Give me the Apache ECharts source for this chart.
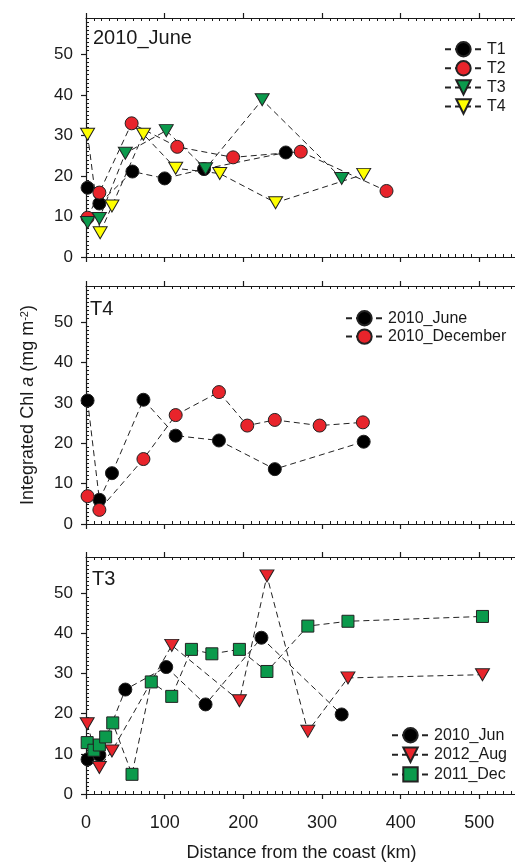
<!DOCTYPE html>
<html>
<head>
<meta charset="utf-8">
<script src="https://cdn.jsdelivr.net/npm/echarts@6/dist/echarts.min.js"></script>
<style>
  html, body { margin: 0; padding: 0; background: #ffffff; }
  #chart { width: 515px; height: 862px; }
</style>
</head>
<body>
<div id="chart"></div>
<script>
// Panel 1 — 2010_June, four transects (distance km, integrated Chl a mg m-2)
const t1Dist = [2, 17, 59, 100, 150, 254];
const t1Chl  = [17.1, 13.2, 21.1, 19.4, 21.7, 25.8];
const t2Dist = [2, 17, 58, 116, 187, 273, 382];
const t2Chl  = [9.7, 15.9, 33.0, 27.2, 24.6, 26.0, 16.3];
const t3Dist = [2, 17, 50, 102, 152, 224, 325];
const t3Chl  = [8.5, 9.5, 25.6, 31.2, 21.8, 38.8, 19.4];
const t4Dist = [2, 18, 33, 73, 114, 170, 241, 353];
const t4Chl  = [30.3, 6.0, 12.6, 30.3, 21.9, 20.6, 13.4, 20.4];

// Panel 2 — transect T4 in two seasons
const t4JunDist = [2, 17, 33, 73, 114, 169, 240, 353];
const t4JunChl  = [30.6, 6.0, 12.6, 30.8, 21.9, 20.7, 13.6, 20.4];
const t4DecDist = [2, 17, 73, 114, 169, 205, 240, 297, 352];
const t4DecChl  = [6.9, 3.5, 16.1, 27.0, 32.7, 24.4, 25.8, 24.4, 25.2];

// Panel 3 — transect T3 in three cruises
const t3JunDist = [2, 17, 50, 102, 152, 223, 325];
const t3JunChl  = [8.6, 9.7, 26.0, 31.6, 22.3, 38.9, 19.8];
const t3AugDist = [1.5, 17, 33, 109, 195, 230, 282, 333, 504];
const t3AugChl  = [17.5, 6.6, 10.7, 37.0, 23.2, 54.3, 15.6, 28.9, 29.7];
const t3DecDist = [1.5, 10, 17, 25, 34, 58.5, 83, 109, 134, 160, 195, 230, 282, 333, 504];
const t3DecChl  = [12.8, 10.9, 12.2, 14.2, 17.7, 4.9, 27.9, 24.3, 36.0, 34.9, 36.0, 30.5, 41.8, 43.0, 44.2];

// Tick values
const yTickValues = [0, 10, 20, 30, 40, 50];
const xTickValues = [0, 100, 200, 300, 400, 500];

// Panel and legend labels
const panelTitles = ['2010_June', 'T4', 'T3'];
const legend1 = ['T1', 'T2', 'T3', 'T4'];
const legend2 = ['2010_June', '2010_December'];
const legend3 = ['2010_Jun', '2012_Aug', '2011_Dec'];

const FONT = '"Liberation Sans", Arial, Helvetica, sans-serif';
const INK = '#1a1a1a';
const BLACK = '#000000', RED = '#e8242b', GREEN = '#0b9a4c', YELLOW = '#ffff00';

const pairs = (xs, ys) => xs.map((x, i) => [x, ys[i]]);

// The plotting frame runs past the right edge of the canvas, so bounds are not constrained.
const grids = [
  { left: 86, top: 18, width: 472, height: 239, outerBoundsMode: 'none', containLabel: false },
  { left: 86, top: 286, width: 472, height: 238, outerBoundsMode: 'none', containLabel: false },
  { left: 86, top: 557, width: 472, height: 237, outerBoundsMode: 'none', containLabel: false }
];

const axisLineStyle = { color: INK, width: 1.2 };

const xAxes = [];
const yAxes = [];
grids.forEach((g, i) => {
  const isLast = i === grids.length - 1;
  // bottom axis
  xAxes.push({
    type: 'value', gridIndex: i, position: 'bottom',
    min: 0, max: 600, interval: 100,
    axisLine: { show: true, lineStyle: axisLineStyle },
    axisTick: { show: true, inside: false, length: 5, lineStyle: axisLineStyle, customValues: xTickValues },
    minorTick: { show: true, splitNumber: 10, length: -3, lineStyle: { color: INK, width: 1 } },
    axisLabel: { show: isLast, margin: 20, fontSize: 18, fontFamily: FONT, color: INK, customValues: xTickValues },
    splitLine: { show: false }, minorSplitLine: { show: false }
  });
  // mirrored top axis
  xAxes.push({
    type: 'value', gridIndex: i, position: 'top',
    min: 0, max: 600, interval: 100,
    axisLine: { show: true, lineStyle: axisLineStyle },
    axisTick: { show: true, inside: false, length: 5, lineStyle: axisLineStyle, customValues: xTickValues },
    minorTick: { show: true, splitNumber: 10, length: -3, lineStyle: { color: INK, width: 1 } },
    axisLabel: { show: false },
    splitLine: { show: false }
  });
  const y = {
    type: 'value', gridIndex: i, position: 'left',
    min: 0, max: 59, interval: 10,
    axisLine: { show: true, lineStyle: axisLineStyle },
    axisTick: { show: true, inside: false, length: 5, lineStyle: axisLineStyle, customValues: yTickValues },
    minorTick: { show: true, splitNumber: 10, length: -3, lineStyle: { color: INK, width: 1 } },
    axisLabel: { margin: 13, fontSize: 17, fontFamily: FONT, color: INK, customValues: yTickValues },
    splitLine: { show: false }
  };
  if (i === 1) {
    y.name = '{t|Integrated Chl }{i|a}{t| (mg m}{s|-2}{t|)}';
    y.nameLocation = 'middle';
    y.nameRotate = 90;
    y.nameGap = 49;
    y.nameTextStyle = {
      rich: {
        t: { fontSize: 18, fontFamily: FONT, color: INK },
        i: { fontSize: 18, fontFamily: FONT, color: INK, fontStyle: 'italic' },
        s: { fontSize: 11, fontFamily: FONT, color: INK, verticalAlign: 'top' }
      }
    };
  }
  yAxes.push(y);
});

const lineStyle = { color: '#222222', width: 1, type: [6, 4] };
function mk(name, grid, xs, ys, symbol, color, size, rotate) {
  return {
    type: 'line', name: name,
    xAxisIndex: grid * 2, yAxisIndex: grid,
    data: pairs(xs, ys),
    symbol: symbol, symbolSize: size, symbolRotate: rotate || 0,
    showAllSymbol: true,
    itemStyle: { color: color, borderColor: '#222222', borderWidth: 1 },
    lineStyle: lineStyle,
    emphasis: { disabled: true },
    clip: false
  };
}

const CIRC = 13, TRI = [14, 12], SQ = 12;

const series = [
  mk('T1', 0, t1Dist, t1Chl, 'circle', BLACK, CIRC),
  mk('T2', 0, t2Dist, t2Chl, 'circle', RED, CIRC),
  mk('T3', 0, t3Dist, t3Chl, 'triangle', GREEN, TRI, 180),
  mk('T4', 0, t4Dist, t4Chl, 'triangle', YELLOW, TRI, 180),
  mk('2010_June', 1, t4JunDist, t4JunChl, 'circle', BLACK, CIRC),
  mk('2010_December', 1, t4DecDist, t4DecChl, 'circle', RED, CIRC),
  mk('2010_Jun', 2, t3JunDist, t3JunChl, 'circle', BLACK, CIRC),
  mk('2012_Aug', 2, t3AugDist, t3AugChl, 'triangle', RED, TRI, 180),
  mk('2011_Dec', 2, t3DecDist, t3DecChl, 'rect', GREEN, SQ)
];

const legendBase = {
  orient: 'vertical', itemWidth: 37, itemHeight: 18,
  selectedMode: false,
  textStyle: { fontSize: 16, fontFamily: FONT, color: INK }
};

const option = {
  animation: false,
  backgroundColor: '#ffffff',
  grid: grids,
  xAxis: xAxes,
  yAxis: yAxes,
  legend: [
    Object.assign({}, legendBase, { data: legend1, left: 439, top: 36, itemGap: 2.7 }),
    Object.assign({}, legendBase, { data: legend2, left: 340, top: 305, itemGap: 2 }),
    Object.assign({}, legendBase, { data: legend3, left: 386, top: 722, itemGap: 3.2 })
  ],
  graphic: [
    { type: 'text', x: 93, y: 38, style: { text: panelTitles[0], font: '20px ' + FONT, fill: INK, verticalAlign: 'middle' } },
    { type: 'text', x: 90, y: 309, style: { text: panelTitles[1], font: '20px ' + FONT, fill: INK, verticalAlign: 'middle' } },
    { type: 'text', x: 92, y: 579, style: { text: panelTitles[2], font: '20px ' + FONT, fill: INK, verticalAlign: 'middle' } },
    { type: 'text', x: 301.5, y: 853, style: { text: 'Distance from the coast (km)', font: '18px ' + FONT, fill: INK, align: 'center', verticalAlign: 'middle' } }
  ],
  series: series
};

const chart = echarts.init(document.getElementById('chart'), null, { renderer: 'canvas' });
chart.setOption(option);
</script>
</body>
</html>
